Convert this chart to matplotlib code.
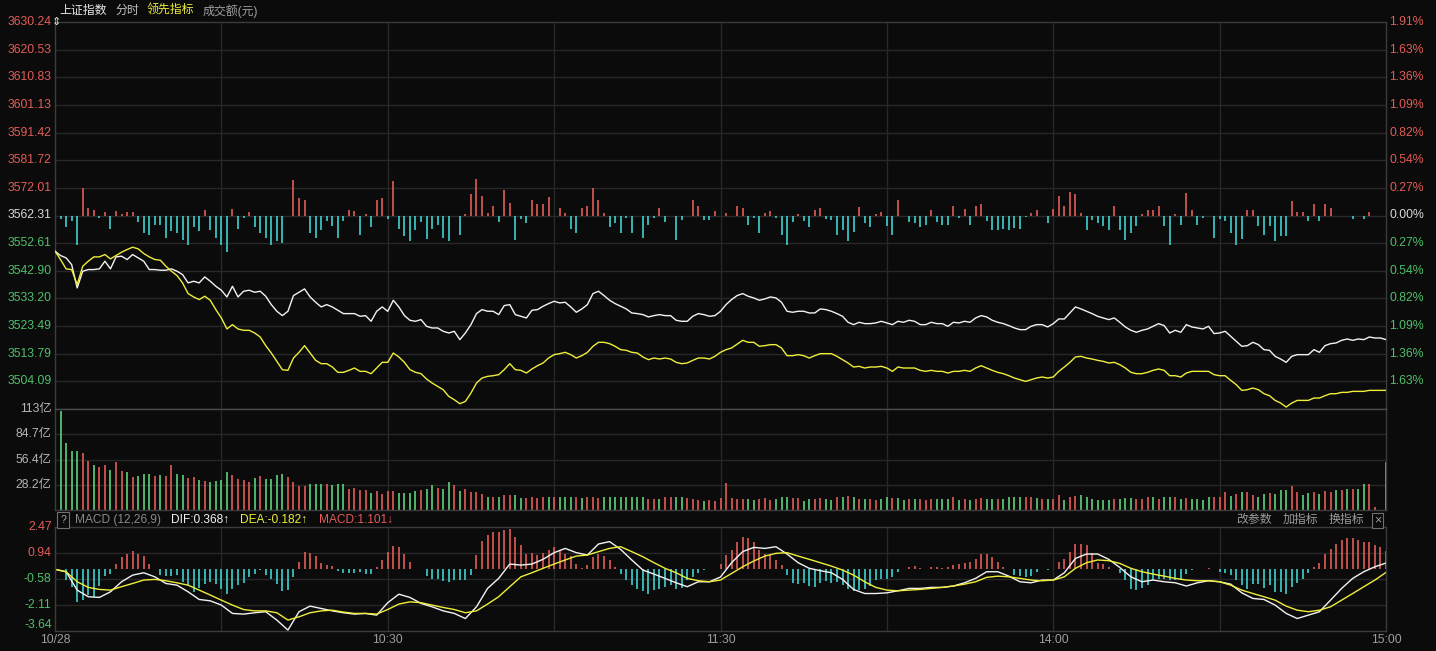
import numpy as np
import matplotlib.pyplot as plt

plt.rcParams['font.family'] = ['Liberation Sans', 'Noto Sans CJK SC', 'DejaVu Sans']

# ---- data (minute index 0 = 9:30, 120 = 11:30/13:00, 240 = 15:00) ----
prev_close = 3562.31
price_levels = [3630.24, 3620.53, 3610.83, 3601.13, 3591.42, 3581.72, 3572.01,
                3562.31, 3552.61, 3542.90, 3533.20, 3523.49, 3513.79, 3504.09]
vol_levels = [113, 84.7, 56.4, 28.2]
macd_levels = [2.47, 0.94, -0.58, -2.11, -3.64]
time_ticks = [0, 60, 120, 180, 240]
time_labels = ['10/28', '10:30', '11:30', '14:00', '15:00']

index_line = [
    3549.78, 3548.25, 3547.43, 3545.09, 3536.89, 3542.75, 3543.33, 3543.33, 3543.57, 3546.26,
    3543.57, 3547.78, 3548.02, 3546.85, 3548.60, 3547.43, 3546.26, 3543.33, 3543.33, 3543.10,
    3543.10, 3543.57, 3542.75, 3541.57, 3538.65, 3539.23, 3538.65, 3540.75, 3539.23, 3537.47,
    3536.07, 3533.72, 3537.47, 3533.72, 3535.72, 3536.07, 3535.37, 3535.72, 3533.96, 3531.03,
    3528.69, 3527.16, 3528.69, 3534.19, 3535.37, 3536.54, 3533.72, 3531.85, 3530.21, 3531.03,
    3530.21, 3529.04, 3527.87, 3527.87, 3527.87, 3526.93, 3527.16, 3525.17, 3528.69, 3530.21,
    3528.69, 3532.55, 3530.21, 3527.20, 3525.52, 3525.17, 3525.76, 3523.41, 3522.83, 3522.83,
    3521.66, 3521.07, 3521.66, 3518.73, 3521.07, 3524.00, 3527.87, 3529.27, 3528.69, 3528.69,
    3527.52, 3530.68, 3531.03, 3527.52, 3526.93, 3526.34, 3529.04, 3529.27, 3530.44, 3531.38,
    3532.20, 3531.62, 3531.85, 3530.21, 3528.34, 3529.51, 3531.03, 3534.90, 3535.72, 3534.19,
    3532.55, 3531.38, 3530.44, 3529.51, 3528.10, 3527.87, 3527.52, 3526.70, 3527.16, 3527.52,
    3527.16, 3527.16, 3525.52, 3525.17, 3525.17, 3526.93, 3527.87, 3527.52, 3526.93, 3527.16,
    3528.69, 3531.03, 3532.79, 3534.20, 3534.90, 3533.96, 3533.37, 3532.55, 3533.02, 3533.72,
    3533.37, 3531.85, 3528.69, 3528.34, 3528.69, 3528.69, 3528.10, 3528.10, 3529.51, 3529.27,
    3528.69, 3527.87, 3526.93, 3524.82, 3524.00, 3524.82, 3524.35, 3524.35, 3524.59, 3525.17,
    3524.59, 3524.00, 3525.17, 3524.82, 3525.52, 3525.17, 3524.00, 3524.00, 3524.82, 3524.35,
    3524.35, 3523.41, 3524.82, 3524.59, 3525.17, 3524.82, 3526.34, 3527.16, 3526.70, 3525.52,
    3524.82, 3524.35, 3523.65, 3522.83, 3522.24, 3522.24, 3523.41, 3524.00, 3524.00, 3523.18,
    3524.35, 3525.99, 3525.99, 3528.10, 3530.21, 3529.51, 3528.69, 3527.87, 3526.93, 3526.34,
    3525.76, 3526.34, 3524.82, 3523.18, 3522.01, 3521.31, 3522.01, 3522.48, 3523.41, 3524.35,
    3523.65, 3521.07, 3522.01, 3521.31, 3524.00, 3523.18, 3522.83, 3522.48, 3523.41, 3520.84,
    3521.07, 3521.66, 3519.90, 3518.14, 3516.39, 3516.62, 3517.79, 3516.97, 3515.21, 3514.98,
    3512.87, 3511.93, 3510.76, 3512.87, 3513.46, 3513.46, 3513.46, 3515.21, 3514.28, 3516.62,
    3517.32, 3517.56, 3518.49, 3518.96, 3518.49, 3518.96, 3518.73, 3519.66, 3519.31, 3519.31,
    3518.73]

lead_line = [
    3549.78, 3546.85, 3543.57, 3543.33, 3538.06, 3544.50, 3546.26, 3547.78, 3547.78, 3548.60,
    3547.08, 3548.25, 3549.42, 3550.36, 3551.18, 3550.60, 3548.96, 3547.78, 3546.85, 3546.61,
    3544.50, 3542.75, 3541.22, 3538.65, 3534.90, 3533.72, 3532.79, 3533.96, 3532.55, 3529.27,
    3526.34, 3522.48, 3524.00, 3522.48, 3522.01, 3522.01, 3521.07, 3519.66, 3516.62, 3514.04,
    3511.11, 3508.18, 3507.95, 3512.28, 3514.28, 3516.62, 3514.04, 3511.46, 3510.29, 3510.29,
    3509.12, 3507.25, 3507.25, 3507.95, 3508.77, 3507.60, 3507.60, 3506.78, 3508.77, 3510.76,
    3510.76, 3514.04, 3512.64, 3510.76, 3508.20, 3507.25, 3506.78, 3504.90, 3503.50, 3502.33,
    3501.15, 3498.81, 3497.64, 3496.23, 3497.05, 3499.98, 3503.50, 3505.25, 3505.84, 3506.07,
    3506.43, 3508.18, 3510.29, 3508.18, 3507.95, 3507.01, 3508.42, 3509.59, 3510.53, 3512.28,
    3513.46, 3513.81, 3514.28, 3513.46, 3512.28, 3513.10, 3514.28, 3516.39, 3517.79, 3517.79,
    3517.32, 3516.39, 3515.21, 3514.98, 3514.28, 3514.04, 3512.64, 3511.70, 3512.28, 3511.93,
    3512.28, 3511.93, 3510.76, 3510.29, 3510.53, 3511.46, 3512.28, 3512.28, 3511.93, 3512.87,
    3514.28, 3515.21, 3515.80, 3517.15, 3518.49, 3517.79, 3517.79, 3516.39, 3516.62, 3516.97,
    3516.97, 3515.80, 3513.10, 3513.10, 3513.46, 3513.10, 3512.28, 3513.10, 3513.81, 3513.81,
    3513.81, 3512.87, 3511.70, 3510.53, 3509.12, 3509.36, 3508.77, 3509.12, 3509.12, 3509.36,
    3508.77, 3507.60, 3509.12, 3508.77, 3508.77, 3508.77, 3507.95, 3507.60, 3507.95, 3507.60,
    3507.60, 3507.01, 3507.60, 3507.60, 3507.95, 3507.60, 3508.77, 3509.59, 3508.77, 3507.95,
    3507.25, 3506.78, 3506.07, 3505.25, 3504.67, 3504.08, 3504.67, 3505.25, 3505.61, 3505.25,
    3505.61, 3507.60, 3509.12, 3510.76, 3512.64, 3512.87, 3512.28, 3511.93, 3511.46, 3511.11,
    3510.53, 3510.76, 3509.94, 3508.77, 3507.25, 3506.78, 3506.78, 3507.25, 3507.95, 3508.42,
    3507.95, 3506.07, 3506.07, 3505.61, 3507.01, 3507.60, 3507.60, 3507.60, 3507.60, 3506.43,
    3506.07, 3506.07, 3504.43, 3502.91, 3500.92, 3501.15, 3501.74, 3501.15, 3499.75, 3499.05,
    3497.40, 3496.47, 3495.06, 3496.47, 3497.40, 3497.40, 3497.40, 3498.23, 3498.23, 3499.05,
    3499.75, 3499.75, 3500.22, 3500.22, 3500.57, 3500.57, 3500.57, 3500.92, 3500.92, 3500.92,
    3500.92]

# red / blue strength bars of the leading indicator, in index points
lead_bars = [
    0, -1.4, -4, -2, -10.2, 9.7, 2.5, 2.1, -0.8, 1.2,
    -4.9, 1.5, 0.7, 1.2, 1.2, -2.2, -6.3, -6.7, -3.2, -3.5,
    -7.9, -5.5, -6.3, -8.7, -10.5, -4, -5.5, 2.1, -5.2, -7.9,
    -10.2, -12.9, 2.3, -4.9, -0.8, 1.2, -4, -6.3, -7.9, -10.2,
    -9, -9.6, 0, 12.4, 6.2, 5.4, -6.1, -7.9, -5.2, -2,
    -3.7, -7.9, -2, 1.9, 1.5, -6.7, 0.7, -4, 5.6, 6.2,
    -1.4, 12.1, -4.7, -7.3, -9, -5.2, -2.3, -8.4, -4.7, -3.5,
    -7.9, -9, -0.2, -7, 0.4, 7.7, 12.7, 6.8, 0.9, 3.3,
    -2.3, 8.9, 4.5, -8.7, -1.4, -2.8, 5.4, 3.9, 3.9, 6.6,
    0, 2.7, 0.9, -4.9, -6.3, 2.7, 3.5, 9.7, 5.6, 0.9,
    -4, -2.6, -6.3, -0.8, -6.3, 0, -7.9, -3.2, -0.8, 2.7,
    -2.3, 0, -8.7, -1.6, 0, 5.6, 3.3, -1.6, -1.6, 1.5,
    0, 0.9, 0, 3.3, 2.7, -3.2, -0.8, -6.3, 0.9, 1.5,
    -0.8, -6.7, -10.5, -2.3, 0.4, -2, -4, 2.1, 2.7, -1.2,
    -1.6, -6.7, -5.2, -9, -5.9, 3, -2.6, -4, 0.7, 1.2,
    -3.7, -7, 5.6, 0, -2.3, -2.8, -4, -3.2, 2.1, -2.3,
    -3.5, -3.2, 3.5, -0.8, 2.3, -3.2, 3.3, 3.9, -2, -5.2,
    -5.2, -4.7, -5.2, -4.3, -4.9, -0.5, 0.9, 1.9, 0, -2.6,
    2.3, 7, 3.3, 8.2, 7.7, 0.9, -5.2, -1.6, -2.8, -3.7,
    -5.2, 3.3, -5.2, -8.7, -6.3, -3.7, 0.4, 2.1, 2.1, 3.5,
    -3.7, -10.5, 0.7, -3.2, 8, 2.1, -3.5, -0.8, 0, -7.9,
    -1.2, -2, -6.3, -10.2, -8.2, 2.1, 1.9, -3.7, -7, -3.7,
    -9, -7.3, -7.3, 5, 1.2, 1.2, -2, 3.9, -2, 4.2,
    2.7, 0, 0, 0, -1.2, 0, -1.2, 1.2, 0, 0,
    0]

# turnover per minute, 亿元
volume = [
    41.3, 110.6, 74.5, 66.3, 66.3, 63.4, 55.3, 50.9, 47.9, 50.9,
    45.0, 53.4, 43.5, 42.4, 36.9, 37.6, 39.8, 40.5, 37.6, 38.7,
    37.6, 49.8, 39.8, 38.7, 36.1, 36.9, 33.2, 32.4, 31.3, 32.4,
    33.2, 42.4, 38.7, 35.0, 33.9, 31.3, 36.1, 37.6, 35.0, 35.0,
    38.7, 39.8, 36.9, 31.3, 26.9, 26.9, 29.5, 29.5, 28.8, 28.8,
    27.6, 28.8, 28.8, 24.0, 25.1, 22.1, 22.9, 19.2, 21.4, 17.7,
    21.4, 21.4, 19.2, 19.2, 19.2, 21.4, 22.1, 24.0, 27.6, 25.1,
    24.0, 31.3, 27.6, 21.4, 24.0, 20.3, 20.3, 18.4, 14.7, 14.0,
    14.0, 16.6, 16.6, 16.6, 12.9, 12.9, 14.0, 12.9, 14.0, 14.0,
    14.0, 14.0, 14.0, 14.0, 14.0, 12.9, 14.0, 14.7, 12.9, 14.0,
    14.0, 14.0, 14.0, 14.0, 14.0, 14.0, 14.0, 11.8, 11.8, 11.8,
    14.0, 14.0, 14.0, 14.0, 12.9, 11.8, 11.1, 10.3, 11.1, 10.3,
    12.9, 30.2, 12.9, 11.8, 11.8, 11.8, 11.1, 11.8, 12.9, 11.1,
    11.8, 14.0, 14.0, 12.9, 12.9, 10.3, 11.8, 11.8, 12.9, 11.8,
    11.1, 14.0, 14.7, 15.5, 14.0, 11.8, 11.8, 11.8, 11.1, 11.8,
    14.0, 12.9, 12.9, 11.1, 11.8, 11.8, 11.8, 11.1, 11.8, 11.8,
    11.8, 11.8, 14.0, 11.1, 11.8, 11.1, 11.8, 12.9, 11.8, 11.8,
    11.8, 11.8, 14.7, 14.0, 14.0, 14.0, 14.0, 12.9, 11.8, 11.8,
    11.8, 16.6, 11.1, 14.0, 15.5, 16.6, 14.0, 11.8, 11.1, 11.1,
    11.1, 11.8, 11.8, 12.9, 12.9, 11.8, 11.8, 14.0, 14.0, 11.8,
    14.0, 14.7, 14.0, 11.8, 12.9, 11.8, 11.8, 11.1, 14.0, 14.7,
    14.0, 20.3, 15.5, 17.7, 20.3, 20.3, 16.6, 14.7, 17.7, 19.2,
    18.4, 22.1, 22.1, 26.5, 20.3, 16.6, 19.2, 20.3, 17.7, 21.4,
    20.3, 22.9, 22.9, 24.0, 24.0, 24.0, 28.8, 29.5, 2.9, 0,
    53.4]

# u = index up that minute (red bar), d = down (green bar)
vol_dir = ('ddddduuduu' 'duududddud' 'uudduududd' 'dduuuududd' 'dduuuudddu'
           'ddduuuuduu' 'uudddduddu' 'dduduuuudu' 'duudduuuud' 'uddduduuud'
           'ddddddduud' 'uudduuuduu' 'uuuuudduuu' 'ddduudduud' 'dudududuud'
           'dudduduuud' 'ddududuudd' 'udddduudud' 'uuduuddddd' 'duddduuudu'
           'ddududdddu' 'uududuuddu' 'ddduuddudu' 'udududduuu' 'd')

# MACD(12,26,9): DIF / DEA every 2 minutes, histogram every minute
dif = [
    0.00, -0.14, -1.22, -1.61, -1.65, -1.32, -0.73, -0.34, -0.20, -0.44,
    -0.83, -0.93, -1.32, -1.77, -1.85, -2.10, -2.59, -2.63, -2.55, -2.49,
    -2.98, -3.57, -2.49, -2.16, -2.30, -2.44, -2.55, -2.63, -2.59, -2.69,
    -1.96, -1.46, -1.65, -2.00, -2.20, -2.44, -2.59, -2.89, -2.20, -1.12,
    -0.53, 0.31, 0.25, 0.31, 0.59, 0.98, 1.23, 0.98, 0.84, 1.49,
    1.63, 1.17, 0.55, -0.04, -0.28, -0.53, -0.79, -1.02, -0.73, -0.73,
    -0.45, 0.39, 1.04, 1.29, 1.23, 1.33, 0.90, 0.39, 0.06, -0.08,
    -0.20, -0.59, -1.18, -1.42, -1.42, -1.38, -1.26, -1.12, -1.12, -1.06,
    -1.06, -0.98, -0.79, -0.53, -0.14, -0.14, -0.40, -0.73, -0.79, -0.63,
    -0.63, -0.20, 0.64, 0.90, 0.90, 0.59, 0.11, -0.44, -0.73, -0.63,
    -0.73, -0.79, -0.98, -0.79, -0.67, -0.73, -0.87, -1.38, -1.71, -1.77,
    -2.10, -2.59, -2.89, -2.69, -2.49, -1.81, -1.12, -0.53, -0.14, 0.15,
    0.37]
dea = [
    0.00, -0.14, -0.73, -1.06, -1.18, -1.22, -1.02, -0.83, -0.63, -0.59,
    -0.67, -0.79, -0.93, -1.22, -1.51, -1.81, -2.10, -2.36, -2.44, -2.44,
    -2.55, -2.98, -2.79, -2.55, -2.44, -2.40, -2.51, -2.59, -2.59, -2.63,
    -2.36, -2.04, -1.91, -1.96, -2.10, -2.24, -2.36, -2.55, -2.44, -2.04,
    -1.61, -1.02, -0.44, -0.20, 0.06, 0.31, 0.55, 0.78, 0.84, 1.04,
    1.23, 1.33, 1.04, 0.74, 0.39, 0.06, -0.20, -0.53, -0.67, -0.73,
    -0.63, -0.24, 0.15, 0.49, 0.78, 0.94, 0.98, 0.78, 0.59, 0.39,
    0.19, -0.04, -0.34, -0.73, -1.06, -1.22, -1.26, -1.22, -1.18, -1.12,
    -1.06, -0.98, -0.87, -0.73, -0.47, -0.40, -0.44, -0.53, -0.63, -0.67,
    -0.63, -0.44, 0.06, 0.39, 0.55, 0.51, 0.35, 0.06, -0.14, -0.28,
    -0.40, -0.53, -0.63, -0.67, -0.67, -0.73, -0.93, -1.22, -1.42, -1.61,
    -1.81, -2.16, -2.40, -2.49, -2.40, -2.20, -1.81, -1.42, -1.02, -0.63,
    -0.18]
macd_hist = [
    0, 0, -0.65, -1.04, -1.92, -1.79, -1.53, -1.63, -1.00, -0.41,
    -0.29, 0.33, 0.73, 0.88, 1.08, 0.92, 0.77, 0.29, 0.04, -0.35,
    -0.41, -0.41, -0.35, -0.75, -0.94, -1.33, -1.08, -0.84, -0.75, -0.88,
    -1.14, -1.47, -1.14, -0.94, -0.80, -0.45, -0.26, -0.06, -0.35, -0.55,
    -0.84, -1.28, -1.24, -0.45, 0.43, 1.02, 0.96, 0.77, 0.37, 0.24,
    0.18, -0.10, -0.22, -0.22, -0.22, -0.16, -0.26, -0.29, 0.14, 0.53,
    1.02, 1.35, 1.31, 0.92, 0.43, 0.04, 0, -0.41, -0.55, -0.55,
    -0.69, -0.75, -0.65, -0.65, -0.65, -0.35, 0.82, 1.67, 2.00, 2.20,
    2.20, 2.29, 2.39, 1.90, 1.41, 0.88, 0.96, 0.82, 0.96, 1.12,
    1.31, 1.16, 0.88, 0.77, 0.29, 0.10, 0.24, 0.73, 0.88, 0.77,
    0.57, 0.14, -0.26, -0.65, -0.94, -1.14, -1.28, -1.47, -1.20, -1.14,
    -1.04, -0.94, -1.14, -1.08, -0.65, -0.45, -0.22, -0.06, 0, 0.04,
    0.33, 0.82, 1.12, 1.61, 1.90, 1.86, 1.61, 1.12, 0.88, 0.82,
    0.53, 0.24, -0.35, -0.80, -0.88, -0.80, -1.00, -1.04, -0.80, -0.69,
    -0.80, -0.75, -0.94, -1.14, -1.28, -1.20, -1.14, -1.00, -0.65, -0.55,
    -0.55, -0.45, -0.16, 0, 0.14, 0.18, 0.10, 0.04, 0.14, 0.14,
    0.10, 0.14, 0.24, 0.29, 0.37, 0.43, 0.63, 0.88, 0.92, 0.73,
    0.43, 0.14, 0, -0.35, -0.41, -0.45, -0.41, -0.16, 0, -0.06,
    0, 0.43, 0.60, 1.02, 1.51, 1.51, 1.41, 0.96, 0.37, 0.30,
    0.14, 0, -0.22, -0.65, -1.14, -1.20, -1.08, -0.94, -0.65, -0.55,
    -0.55, -0.61, -0.65, -0.61, -0.26, -0.06, 0, 0.04, 0.10, 0.04,
    -0.16, -0.22, -0.35, -0.65, -0.94, -1.14, -0.84, -0.88, -1.08, -0.94,
    -1.33, -1.33, -1.47, -1.04, -0.80, -0.55, -0.22, 0.14, 0.37, 0.88,
    1.22, 1.47, 1.71, 1.86, 1.86, 1.75, 1.61, 1.61, 1.41, 1.31,
    1.10]

# ---- style ----
BG = '#0b0b0b'
GRID = '#282828'
BORDER = '#3c3c3c'
RED = '#e25c57'
CYAN = '#3fd0d0'
VGREEN = '#5ed27e'
LGREEN = '#4fbf6a'
WHITE = '#f2f2f2'
YELLOW = '#eeee3a'
GRAY = '#9c9c9c'

W, H = 1436, 651
fig = plt.figure(figsize=(W / 100, H / 100), dpi=100, facecolor=BG)


def box(x0, y0, x1, y1):
    return [x0 / W, 1 - y1 / H, (x1 - x0) / W, (y1 - y0) / H]


def pt(x, y):
    return x / W, 1 - y / H


ax_p = fig.add_axes(box(55, 22, 1386, 409))
ax_v = fig.add_axes(box(55, 409, 1386, 510))
ax_m = fig.add_axes(box(55, 527.3, 1386, 631.3))

for ax in (ax_p, ax_v, ax_m):
    ax.set_facecolor(BG)
    ax.set_xlim(0, 240)
    ax.set_xticks([])
    ax.set_yticks([])
    for s in ax.spines.values():
        s.set_color(BORDER)
        s.set_linewidth(1)
    for m in range(30, 240, 30):
        ax.axvline(m, color=GRID, lw=1, zorder=0)

# ---- price panel ----
span = price_levels[0] - prev_close
ax_p.set_ylim(prev_close - span, price_levels[0])
for lv in price_levels[1:]:
    ax_p.axhline(lv, color=GRID, lw=1, zorder=0)

lb = np.array(lead_bars)
xb = np.arange(len(lb))
up = lb > 0
dn = lb < 0
ax_p.vlines(xb[up], prev_close, prev_close + lb[up], color=RED, lw=1.2, zorder=2)
ax_p.vlines(xb[dn], prev_close, prev_close + lb[dn], color=CYAN, lw=1.2, zorder=2)

ax_p.plot(np.arange(len(index_line)), index_line, color=WHITE, lw=1.0, zorder=3)
ax_p.plot(np.arange(len(lead_line)), lead_line, color=YELLOW, lw=1.0, zorder=3)

ytr = ax_p.get_yaxis_transform()
for lv in price_levels:
    if lv > prev_close + 0.001:
        c = RED
    elif lv < prev_close - 0.001:
        c = LGREEN
    else:
        c = '#d8d8d8'
    ax_p.text(-0.0025, lv, f'{lv:.2f}', transform=ytr, ha='right', va='center',
              color=c, fontsize=8.8, clip_on=False)
    pct = abs(lv - prev_close) / prev_close * 100
    ax_p.text(1.0286, lv, f'{pct:.2f}%', transform=ytr, ha='right', va='center',
              color=c, fontsize=8.8, clip_on=False)
ax_p.text(-0.0022, price_levels[0], '⇕', transform=ytr, ha='left', va='center',
          color='#e0e0e0', fontsize=8, family=['DejaVu Sans'], clip_on=False)

# ---- volume panel ----
vol = np.array(volume)
xv = np.arange(len(vol))
is_up = np.array([c == 'u' for c in vol_dir])
ax_v.set_ylim(0, vol_levels[0])
for lv in vol_levels[1:]:
    ax_v.axhline(lv, color=GRID, lw=1, zorder=0)
ax_v.vlines(xv[is_up], 0, vol[is_up], color=RED, lw=1.2)
ax_v.vlines(xv[~is_up], 0, vol[~is_up], color=VGREEN, lw=1.2)
ax_v.spines['top'].set_color('#4a4a4a')
ytr = ax_v.get_yaxis_transform()
for lv in vol_levels:
    ax_v.text(-0.0025, lv, f'{lv:g}亿', transform=ytr, ha='right', va='center',
              color='#b5b5b5', fontsize=8.8, clip_on=False)

# ---- MACD panel ----
ax_m.set_ylim(macd_levels[-1], macd_levels[0])
for lv in macd_levels[1:-1]:
    ax_m.axhline(lv, color=GRID, lw=1, zorder=0)
mh = np.array(macd_hist)
xm = np.arange(len(mh))
ax_m.vlines(xm[mh > 0], 0, mh[mh > 0], color=RED, lw=1.2)
ax_m.vlines(xm[mh < 0], 0, mh[mh < 0], color=CYAN, lw=1.2)
ax_m.plot(np.arange(len(dif)) * 2, dif, color=WHITE, lw=1.0)
ax_m.plot(np.arange(len(dea)) * 2, dea, color=YELLOW, lw=1.0)
ytr = ax_m.get_yaxis_transform()
for lv in macd_levels:
    ax_m.text(-0.0025, lv, f'{lv:.2f}', transform=ytr, ha='right',
              va='bottom' if lv == macd_levels[-1] else 'center',
              color=RED if lv > 0 else LGREEN, fontsize=8.8, clip_on=False)

xtr = ax_m.get_xaxis_transform()
for t, lab in zip(time_ticks, time_labels):
    ax_m.text(t, -0.085, lab, transform=xtr, ha='center', va='center',
              color=GRAY, fontsize=8.8, clip_on=False)

# ---- header texts ----
fs = 8.6
fig.text(*pt(59, 11), '上证指数', color='#e8e8e8', fontsize=fs, va='center')
fig.text(*pt(116, 11), '分时', color='#c0c0c0', fontsize=fs, va='center')
fig.text(*pt(147, 11), '领先指标', color='#ecec3a', fontsize=fs, va='center')
fig.text(*pt(203, 11), '成交额(元)', color='#a0a0a0', fontsize=fs, va='center')

fig.text(*pt(63, 520), '?', color='#b0b0b0', fontsize=7.5, ha='center', va='center',
         bbox=dict(boxstyle='square,pad=0.25', fc=BG, ec='#707070', lw=0.8))
fig.text(*pt(75, 520), 'MACD (12,26,9)', color='#8a8a8a', fontsize=fs, va='center')
fig.text(*pt(171, 520), 'DIF:0.368↑', color='#f0f0f0', fontsize=fs, va='center')
fig.text(*pt(240, 520), 'DEA:-0.182↑', color='#ecec3a', fontsize=fs, va='center')
fig.text(*pt(319, 520), 'MACD:1.101↓', color=RED, fontsize=fs, va='center')

fig.text(*pt(1236, 520), '改参数', color='#9a9a9a', fontsize=fs, va='center')
fig.text(*pt(1283, 520), '加指标', color='#9a9a9a', fontsize=fs, va='center')
fig.text(*pt(1329, 520), '换指标', color='#9a9a9a', fontsize=fs, va='center')
fig.text(*pt(1377.5, 520), '×', color='#9a9a9a', fontsize=9, ha='center', va='center',
         bbox=dict(boxstyle='square,pad=0.12', fc=BG, ec='#707070', lw=0.8))

fig.savefig('out.png', dpi=100, facecolor=BG)
